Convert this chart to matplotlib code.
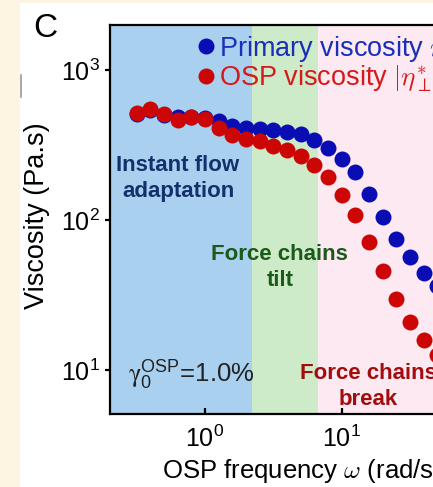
import numpy as np
import matplotlib
matplotlib.use("Agg")
import matplotlib.pyplot as plt
from matplotlib.patches import Rectangle
from matplotlib.lines import Line2D

plt.rcParams['font.family'] = ['Liberation Sans', 'DejaVu Sans']
plt.rcParams['mathtext.fontset'] = 'cm'

# ---- data ----
log_freq = [-0.5, -0.4, -0.3, -0.2, -0.1, 0.0, 0.1, 0.2, 0.3, 0.4, 0.5, 0.6,
            0.7, 0.8, 0.9, 1.0, 1.1, 1.2, 1.3, 1.4, 1.5, 1.6, 1.7]
freq = [10 ** v for v in log_freq]
primary_visc = [512, 540, 505, 486, 484, 478, 457, 425, 408, 404, 398, 388,
                374, 341, 300, 256, 209, 149, 104, 75, 57, 44.3, 36.3]
osp_visc = [514, 547, 507, 464, 484, 473, 408, 369, 347, 336, 313, 293,
            268, 232, 194, 147.5, 108, 71, 45.5, 29.6, 21, 15.9, 12.6]
regions = [(0.2, 2.21), (2.21, 6.71), (6.71, 100)]
region_colors = ['#a9d0ef', '#cdebc9', '#fde9f1']
xlim = (10 ** -0.695, 10 ** 1.939)
ylim = (10 ** 0.7067, 10 ** 3.3)

W, H = 433, 487
fig = plt.figure(figsize=(W / 100, H / 100), dpi=100)
fig.patch.set_facecolor('#fdf5e2')
fig.add_artist(Rectangle((20 / W, 0), 1, (H - 3) / H, transform=fig.transFigure,
                         facecolor='white', edgecolor='none', zorder=-10))
fig.add_artist(Line2D([20.5 / W, 20.5 / W], [1 - 75 / H, 1 - 97 / H],
                      transform=fig.transFigure, color='#9a9a9a', lw=1.2))

ax = fig.add_axes([110 / W, (H - 414) / H, 360 / W, 389 / H])
ax.set_xscale('log')
ax.set_yscale('log')
ax.set_xlim(*xlim)
ax.set_ylim(*ylim)

for (a, b), c in zip(regions, region_colors):
    ax.axvspan(a, b, color=c, lw=0, zorder=0)

ax.plot(freq, primary_visc, 'o', color='#0a0cb4', ms=11.5, mec='none', zorder=3,
        label=r'Primary viscosity $\tilde{\eta}$')
ax.plot(freq, osp_visc, 'o', color='#cc0505', ms=11.5, mec='none', zorder=4,
        label=r'OSP viscosity $\left|\eta_{\perp}^{*}\right|$')

leg = ax.legend(loc='upper left', bbox_to_anchor=(0.245, 0.978), frameon=False,
                fontsize=19.5, handlelength=0.55, handletextpad=0.2,
                borderpad=0, borderaxespad=0, labelspacing=0.0,
                labelcolor=['#1a2fb8', '#d51a1a'])

for s in ax.spines.values():
    s.set_linewidth(1.6)
ax.minorticks_off()
ax.tick_params(axis='x', which='major', direction='in', length=4, width=1.6,
               labelsize=18, pad=8)
ax.tick_params(axis='y', which='major', direction='out', length=3.5, width=1.6,
               labelsize=18, pad=4)
ax.tick_params(which='minor', length=0)

ax.set_xlabel(r'OSP frequency $\omega$ (rad/s)', fontsize=18.5)
ax.xaxis.label.set_ha('left')
ax.xaxis.set_label_coords(0.144, -0.11)
ax.set_ylabel('Viscosity (Pa.s)', fontsize=19.5)
ax.yaxis.set_label_coords(-0.168, 0.51)

ax.text(0.189, 0.605, 'Instant flow\nadaptation', transform=ax.transAxes,
        ha='center', va='center', fontsize=16, fontweight='bold', color='#12306c',
        linespacing=1.35)
ax.text(0.472, 0.377, 'Force chains\ntilt', transform=ax.transAxes,
        ha='center', va='center', fontsize=16, fontweight='bold', color='#1b5a1b',
        linespacing=1.35)
ax.text(0.717, 0.0707, 'Force chains\nbreak', transform=ax.transAxes,
        ha='center', va='center', fontsize=16, fontweight='bold', color='#a30c0c',
        linespacing=1.35)
ax.text(0.05, 0.1, r'$\mathrm{\gamma}_{\mathdefault{0}}^{\mathdefault{OSP}}$=1.0%',
        transform=ax.transAxes, ha='left', va='center', fontsize=18.5, color='#222222',
        math_fontfamily='stix')

fig.text(33 / W, 1 - 37 / H, 'C', fontsize=24, ha='left', va='baseline')

fig.savefig('out.png', dpi=100)
